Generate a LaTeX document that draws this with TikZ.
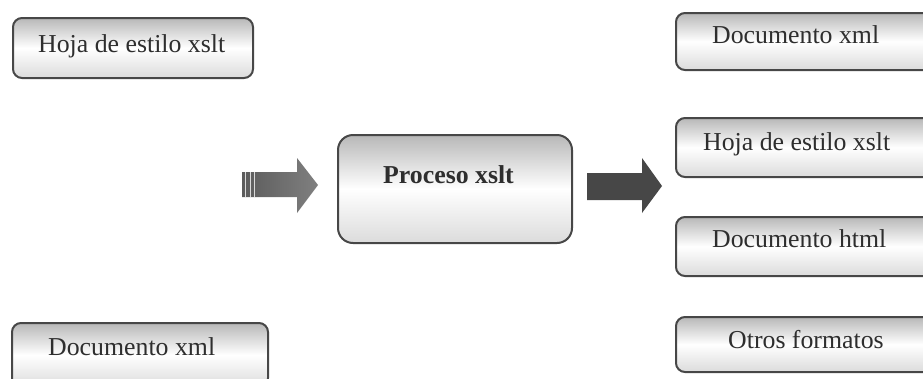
\documentclass[tikz,border=0pt]{standalone}
\usepackage{fontspec}
\setmainfont{Liberation Serif}
\begin{document}
\begin{tikzpicture}[x=1pt,y=-1pt,
  box/.style={draw=black!72, line width=2pt, rounded corners=9pt,
    top color=black!28, bottom color=black!14, middle color=white, inner sep=0pt},
  bigbox/.style={box, rounded corners=15pt},
  txt/.style={anchor=base west, inner sep=0pt, font=\fontsize{25.8}{30}\selectfont, text=black!82},
  stripe/.style={draw=white!85!black, line width=0.9pt}]
\useasboundingbox (0,0) rectangle (923,378);
% left boxes
\node[box, minimum width=240pt, minimum height=60pt] (l1) at (133,48) {};
\node[txt] (t1) at (38,52) {Hoja de estilo xslt};
\node[box, minimum width=256pt, minimum height=64pt] (l2) at (140,355) {};
\node[txt] (t2) at (48,355) {Documento xml};
% process box
\node[bigbox, minimum width=234pt, minimum height=108pt] (p) at (455,189) {};
\node[txt] (tp) at (383,183) {\textbf{Proceso xslt}};
% right boxes
\node[box, minimum width=264pt, minimum height=57pt] (r1) at (808,41.5) {};
\node[txt] (tr1) at (712,43) {Documento xml};
\node[box, minimum width=264pt, minimum height=59pt] (r2) at (808,147.5) {};
\node[txt] (tr2) at (703,150) {Hoja de estilo xslt};
\node[box, minimum width=264pt, minimum height=59pt] (r3) at (808,246.5) {};
\node[txt] (tr3) at (712,247) {Documento html};
\node[box, minimum width=264pt, minimum height=55pt] (r4) at (808,344.5) {};
\node[txt] (tr4) at (728,348) {Otros formatos};
% block arrows
\shade[left color=black!64, right color=black!50]
  (242,172) -- (297,172) -- (297,158) -- (318,185) -- (297,213) -- (297,197) -- (242,197) -- cycle;
\draw[stripe] (245,172) -- (245,197);
\draw[stripe] (250,172) -- (250,197);
\draw[stripe] (254,172) -- (254,197);
\fill[black!72]
  (587,173) -- (642,173) -- (642,158) -- (662,186) -- (642,213) -- (642,200) -- (587,200) -- cycle;
\end{tikzpicture}
\end{document}
